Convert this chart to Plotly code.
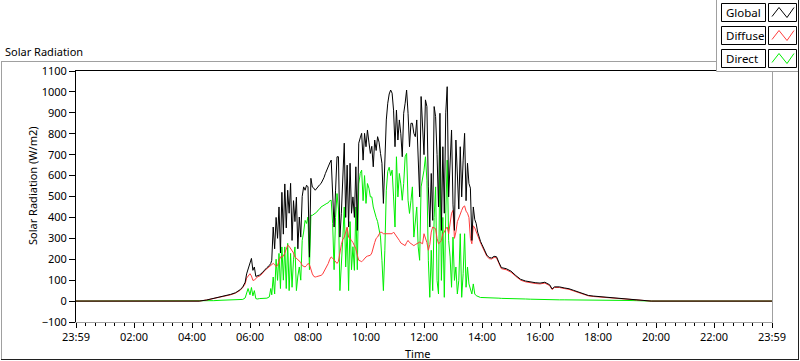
import plotly.graph_objects as go

# ---------------- data ----------------
series_names = ["Global", "Diffuse", "Direct"]
series_colors = ["#000000", "#ff3c3c", "#00ee00"]

minutes = [0, 255, 270, 285, 300, 310, 320, 330, 340, 345, 350, 353, 356, 360, 363, 366, 369, 372, 375, 380,
           385, 390, 395, 400, 403,
           405, 408, 411, 414, 417, 420, 423, 426, 429, 432, 435, 438, 441, 444, 447, 450, 453, 456, 459, 462,
           465, 468, 471, 474, 477, 480, 483, 486, 489, 492, 495, 498, 501, 504, 507, 510, 513, 516, 519, 522,
           525, 528, 531, 534, 537, 540, 543, 546, 549, 552, 555, 558, 561, 564, 567, 570, 573, 576, 579, 582,
           585, 588, 591, 594, 597, 600, 603, 606, 609, 612, 615, 618, 621, 624, 627, 630, 633, 636, 639, 642,
           645, 648, 651, 654, 657, 660, 663, 666, 669, 672, 675, 678, 681, 684, 687, 690, 693, 696, 699, 702,
           705, 708, 711, 714, 717, 720, 723, 726, 729, 732, 735, 738, 741, 744, 747, 750, 753, 756, 759, 762,
           765, 768, 771, 774, 777, 780, 783, 786, 789, 792, 795, 798, 801, 804, 807, 810, 813, 816, 819, 822,
           825, 828, 831, 834, 837, 840,
           845, 850, 855, 860, 865, 870, 875, 880, 890, 900, 910, 920, 930, 940, 950, 960, 970, 980, 985, 990,
           1000, 1010, 1020, 1030, 1040, 1050, 1060, 1070, 1080, 1100, 1120, 1140, 1160, 1180, 1190, 1440]

global_wm2 = [0, 0, 5, 12, 21, 26, 32, 40, 55, 68, 90, 130, 150, 180, 204, 147, 163, 118, 120, 125,
              135, 150, 160, 170, 180,
              195, 354, 250, 400, 300, 450, 230, 520, 320, 560, 350, 530, 420, 563, 290, 480, 380, 497, 250, 402,
              306, 500, 546, 530, 554, 546, 210, 587, 545, 540, 530, 540, 550, 556, 562, 575, 590, 610, 630, 642,
              660, 674, 500, 354, 530, 690, 690, 306, 420, 600, 755, 400, 650, 354, 659, 420, 498, 400, 642, 338,
              755, 780, 802, 674, 802, 738, 818, 760, 706, 740, 642, 770, 720, 786, 760, 706, 659, 467, 706, 866,
              946, 990, 1009, 994, 913, 738, 913, 770, 866, 800, 690, 898, 946, 1009, 898, 738, 850, 850, 802, 786,
              866, 690, 498, 978, 800, 700, 962, 930, 546, 354, 610, 386, 930, 882, 700, 450, 898, 338, 738, 420,
              900, 1025, 498, 674, 818, 460, 338, 770, 600, 440, 738, 498, 674, 802, 480, 659, 562, 540, 290, 450,
              390, 371, 330, 300, 285, 270,
              245, 220, 208, 206, 214, 212, 185, 160, 155, 143, 122, 104, 96, 91, 88, 86, 90, 78, 58, 68,
              68, 63, 59, 51, 44, 34, 27, 24, 22, 19, 15, 12, 8, 3, 0, 0]

diffuse_wm2 = [0, 0, 5, 12, 20, 25, 30, 38, 52, 65, 82, 110, 122, 131, 120, 99, 100, 108, 115, 120,
               130, 145, 155, 165, 170,
               171, 180, 175, 165, 170, 190, 211, 211, 215, 230, 255, 267, 262, 250, 243, 230, 211, 205, 198, 195,
               185, 170, 165, 163, 170, 180, 175, 150, 130, 118, 115, 117, 118, 120, 123, 128, 140, 150, 163, 180,
               200, 211, 205, 195, 190, 180, 190, 240, 270, 295, 306, 330, 354, 306, 295, 290, 280, 265, 250, 220,
               195, 192, 188, 195, 205, 211, 215, 217, 219, 230, 259, 280, 300, 306, 320, 330, 328, 322, 322, 322,
               320, 320, 320, 322, 330, 320, 310, 306, 290, 278, 274, 268, 265, 280, 290, 280, 274, 270, 265, 270,
               274, 280, 282, 278, 274, 322, 300, 280, 243, 270, 330, 354, 350, 346, 300, 274, 280, 290, 322, 330,
               345, 354, 322, 380, 420, 434, 300, 330, 380, 397, 420, 434, 450, 455, 430, 420, 400, 300, 274, 360,
               350, 330, 315, 290, 278, 263,
               240, 214, 203, 201, 209, 207, 180, 155, 150, 138, 118, 100, 92, 87, 84, 82, 86, 74, 55, 65,
               65, 60, 56, 48, 41, 31, 25, 22, 20, 17, 13, 10, 7, 2, 0, 0]

direct_wm2 = [0, 0, 1, 2, 4, 5, 5, 6, 7, 8, 15, 40, 60, 30, 65, 25, 50, 12, 10, 12,
              12, 13, 14, 20, 60,
              30, 115, 34, 200, 99, 228, 60, 259, 100, 259, 60, 276, 50, 228, 66, 200, 259, 50, 120, 163,
              100, 290, 330, 386, 371, 402, 150, 410, 410, 415, 419, 425, 435, 440, 450, 455, 460, 465, 467, 470,
              480, 482, 371, 150, 400, 514, 440, 50, 150, 300, 450, 163, 350, 50, 380, 150, 260, 147, 450, 150,
              560, 610, 626, 480, 600, 467, 562, 540, 498, 498, 450, 419, 400, 380, 340, 306, 195, 50, 243, 530,
              620, 640, 600, 626, 498, 354, 690, 498, 610, 560, 482, 562, 690, 706, 482, 419, 480, 546, 306, 386,
              450, 259, 195, 546, 580, 626, 690, 578, 195, 18, 243, 50, 400, 546, 99, 34, 738, 99, 400, 18,
              419, 674, 290, 211, 66, 306, 99, 163, 34, 99, 322, 18, 131, 322, 66, 163, 82, 50, 34, 82,
              34, 26, 22, 18, 17, 17,
              17, 16, 16, 15, 15, 15, 14, 13, 13, 13, 12, 11, 10, 9, 8, 8, 8, 7, 7, 7,
              6, 6, 6, 5, 5, 5, 5, 4, 4, 4, 3, 3, 2, 1, 0, 0]

x_tick_hours = [0, 2, 4, 6, 8, 10, 12, 14, 16, 18, 20, 22, 24]
x_tick_text = ["23:59", "02:00", "04:00", "06:00", "08:00", "10:00", "12:00",
               "14:00", "16:00", "18:00", "20:00", "22:00", "23:59"]

# ---------------- geometry helpers (pixels -> paper) ----------------
W, H = 800, 361
PL, PR, PT, PB = 76, 772, 71, 322


def px(x):
    return (x - PL) / (PR - PL)


def py(y):
    return (PB - y) / (PB - PT)


FONT = "Noto Sans"
FS = 11
hours = [m / 60 for m in minutes]
series_values = [global_wm2, diffuse_wm2, direct_wm2]

fig = go.Figure()
# draw Direct first, Global last (on top)
for i in [2, 1, 0]:
    fig.add_trace(go.Scatter(x=hours, y=series_values[i], mode="lines", name=series_names[i],
                             line=dict(color=series_colors[i], width=1), hoverinfo="skip"))

minor_vals = [k / 3 for k in range(0, 73)]

fig.update_layout(
    width=W, height=H,
    margin=dict(l=PL, r=W - PR, t=PT, b=H - PB, pad=0, autoexpand=False),
    paper_bgcolor="white", plot_bgcolor="white",
    showlegend=False,
    font=dict(family=FONT, size=FS, color="black"),
    xaxis=dict(range=[0, 24], tickmode="array", tickvals=x_tick_hours, ticktext=x_tick_text,
               ticks="outside", ticklen=5, tickwidth=1, tickcolor="black",
               minor=dict(tickmode="array", tickvals=minor_vals, ticks="outside", ticklen=3,
                          tickwidth=1, tickcolor="black", showgrid=False),
               showgrid=False, zeroline=False, showline=False, automargin=False,
               tickfont=dict(family=FONT, size=FS, color="black")),
    yaxis=dict(range=[-100, 1100], tickmode="linear", tick0=0, dtick=100,
               ticks="outside", ticklen=6, tickwidth=1, tickcolor="black",
               showgrid=False, zeroline=False, showline=False, automargin=False,
               tickfont=dict(family=FONT, size=FS, color="black")),
)

shapes = []
annotations = []


def hline(x0, x1, y, color, w=1):
    shapes.append(dict(type="line", xref="paper", yref="paper", x0=px(x0), x1=px(x1), y0=py(y), y1=py(y),
                       line=dict(color=color, width=w)))


def vline(x, y0, y1, color, w=1):
    shapes.append(dict(type="line", xref="paper", yref="paper", x0=px(x), x1=px(x), y0=py(y0), y1=py(y1),
                       line=dict(color=color, width=w)))


def rect(x0, y0, x1, y1, line_color, fill="white"):
    shapes.append(dict(type="rect", xref="paper", yref="paper", x0=px(x0), x1=px(x1), y0=py(y1), y1=py(y0),
                       line=dict(color=line_color, width=1), fillcolor=fill))


# outer panel frame
hline(1, 717, 61.5, "#a0a0a0")
vline(1.5, 61, 360, "#a0a0a0")
hline(1, 799, 359.5, "#202020")
vline(798.5, 0, 360, "#202020")

# plot area frame
hline(75, 772.5, 70.5, "#000000")
vline(75.5, 70, 322.5, "#000000")
hline(75, 772.5, 322.5, "#a0a0a0")
vline(772.5, 70, 322.5, "#a0a0a0")

# legend panel
rect(716.5, -2, 798.5, 71.5, "#a0a0a0", "white")
vline(798.5, 0, 72, "#202020")
row_tops = [3.5, 26.5, 49.5]
row_h = 18
for i, name in enumerate(series_names):
    top = row_tops[i]
    rect(721.5, top, 765.5, top + row_h, "#000000", "white")
    rect(768.5, top, 796.5, top + row_h, "#000000", "white")
    xs = [772, 779, 787, 794]
    ys = [top + 13, top + 4, top + 14, top + 4]
    path = "M " + " L ".join(f"{px(a)},{py(b)}" for a, b in zip(xs, ys))
    shapes.append(dict(type="path", xref="paper", yref="paper", path=path,
                       line=dict(color=series_colors[i], width=1)))
    annotations.append(dict(text=name, xref="paper", yref="paper", x=px(724), y=py(top + row_h / 2),
                            xanchor="left", yanchor="middle", showarrow=False,
                            font=dict(family=FONT, size=11.5, color="black")))

# chart title and axis titles
annotations.append(dict(text="Solar Radiation", xref="paper", yref="paper", x=px(3), y=py(51),
                        xanchor="left", yanchor="middle", showarrow=False,
                        font=dict(family=FONT, size=FS, color="black")))
annotations.append(dict(text="Solar Radiation (W/m2)", xref="paper", yref="paper", x=px(32), y=py(185),
                        xanchor="center", yanchor="middle", textangle=-90, showarrow=False,
                        font=dict(family=FONT, size=FS, color="black")))
annotations.append(dict(text="Time", xref="paper", yref="paper", x=px(417), y=py(353),
                        xanchor="center", yanchor="middle", showarrow=False,
                        font=dict(family=FONT, size=FS, color="black")))

fig.update_layout(shapes=shapes, annotations=annotations)
fig.write_html("out.html",
               config={"displayModeBar": False, "staticPlot": True},
               post_script="document.body.style.margin='0';document.body.style.padding='0';"
                           "document.documentElement.style.overflow='hidden';")
